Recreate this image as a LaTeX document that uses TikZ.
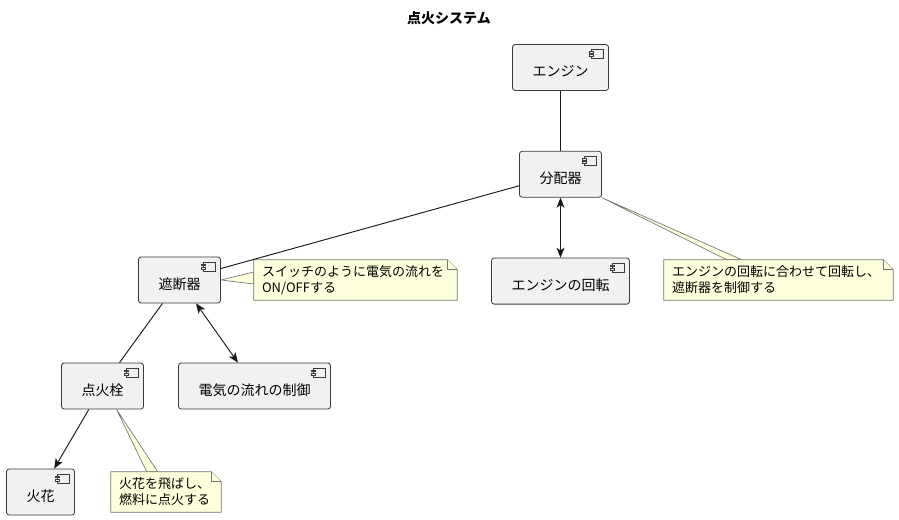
\documentclass[tikz,border=0pt]{standalone}
\usepackage{fontspec}
\setmainfont{Noto Sans CJK JP}
\usepackage{tikz}
\definecolor{compfill}{HTML}{F1F1F1}
\definecolor{lineblack}{HTML}{181818}
\definecolor{notefill}{HTML}{FEFFDD}
\usetikzlibrary{arrows.meta, positioning, calc, backgrounds}

\newcommand{\notefont}{\fontsize{9.75pt}{12pt}\selectfont}
% folded note body around a note node
\newcommand{\notebody}[1]{%
  \filldraw[noteline] (#1.north west) -- ([xshift=-7.5pt]#1.north east)
    -- ([yshift=-7.5pt]#1.north east) -- (#1.south east) -- (#1.south west) -- cycle;
  \draw[noteline] ([xshift=-7.5pt]#1.north east) |- ([yshift=-7.5pt]#1.north east);
}

\begin{document}
\begin{tikzpicture}[
    x=0.75pt, y=-0.75pt,
    node distance=45pt,
    comp/.style={rectangle, draw=lineblack!85, fill=compfill, line width=0.6pt,
                rounded corners=2pt, minimum height=34.5pt, inner xsep=15pt,
                text height=14pt, text depth=0pt,
                font=\fontsize{10.5pt}{12pt}\selectfont,
                path picture={
                  \coordinate (ic) at ([xshift=-3.75pt,yshift=-3.75pt]path picture bounding box.north east);
                  \draw[sharp corners, lineblack!85, line width=0.5pt, fill=compfill] (ic) rectangle ++(-9pt,-6.75pt);
                  \draw[sharp corners, lineblack!85, line width=0.5pt, fill=compfill] ([xshift=-10.5pt,yshift=-1.5pt]ic) rectangle ++(3pt,-1.3pt);
                  \draw[sharp corners, lineblack!85, line width=0.5pt, fill=compfill] ([xshift=-10.5pt,yshift=-4pt]ic) rectangle ++(3pt,-1.3pt);
                }},
    notebox/.style={rectangle, inner xsep=6pt, inner ysep=0pt, minimum height=30pt,
                align=left, font=\notefont},
    noteline/.style={draw=lineblack!60, fill=notefill, line width=0.5pt},
    link/.style={draw=lineblack, line width=0.7pt},
    arr/.style={link, -{Stealth[length=7.5pt, width=6pt, inset=2pt]}},
    dblarr/.style={link, {Stealth[length=7.5pt, width=6pt, inset=2pt]}-{Stealth[length=7.5pt, width=6pt, inset=2pt]}}
]
    \useasboundingbox (0,0) rectangle (899,520);

    % Title
    \node[font=\bfseries\fontsize{10.5pt}{12pt}\selectfont] (title) at (449,18) {点火システム};

    % Components
    \node[comp] (engine) at (560.5,67.5) {エンジン};
    \node[comp, below=of engine] (dist) {分配器};
    \node[comp, below=of dist] (rot) {エンジンの回転};
    \node[comp] (brk) at (179.5,280) {遮断器};
    \node[comp] (plug) at (102.5,386) {点火栓};
    \node[comp] (ctrl) at (254.5,386) {電気の流れの制御};
    \node[comp] (spark) at (40.5,492) {火花};

    % Notes
    \node[notebox, text width=140.25pt] (nbrk) at (355.5,280) {スイッチのように電気の流れを\\ON/OFFする};
    \node[notebox, text width=159.75pt] (ndist) at (778.5,280) {エンジンの回転に合わせて回転し、\\遮断器を制御する};
    \node[notebox, text width=70.5pt] (nplug) at (166,492) {火花を飛ばし、\\燃料に点火する};

    \begin{scope}[on background layer]
        \filldraw[noteline] (brk.east) -- ($(nbrk.west)+(0,-8)$) -- ($(nbrk.west)+(0,4)$) -- cycle;
        \notebody{nbrk}
        \filldraw[noteline] (dist.south east) -- ($(ndist.north west)+(63,0)$) -- ($(ndist.north west)+(78,0)$) -- cycle;
        \notebody{ndist}
        \filldraw[noteline] ($(plug.south)+(14,0)$) -- ($(nplug.north west)+(36,0)$) -- ($(nplug.north west)+(47,0)$) -- cycle;
        \notebody{nplug}
    \end{scope}

    % Lines
    \draw[link] (engine) -- (dist);
    \draw[link] (dist) -- (brk);
    \draw[dblarr] (dist) -- (rot);
    \draw[link] (brk) -- (plug);
    \draw[dblarr] (brk) -- (ctrl);
    \draw[arr] (plug) -- (spark);
\end{tikzpicture}
\end{document}
